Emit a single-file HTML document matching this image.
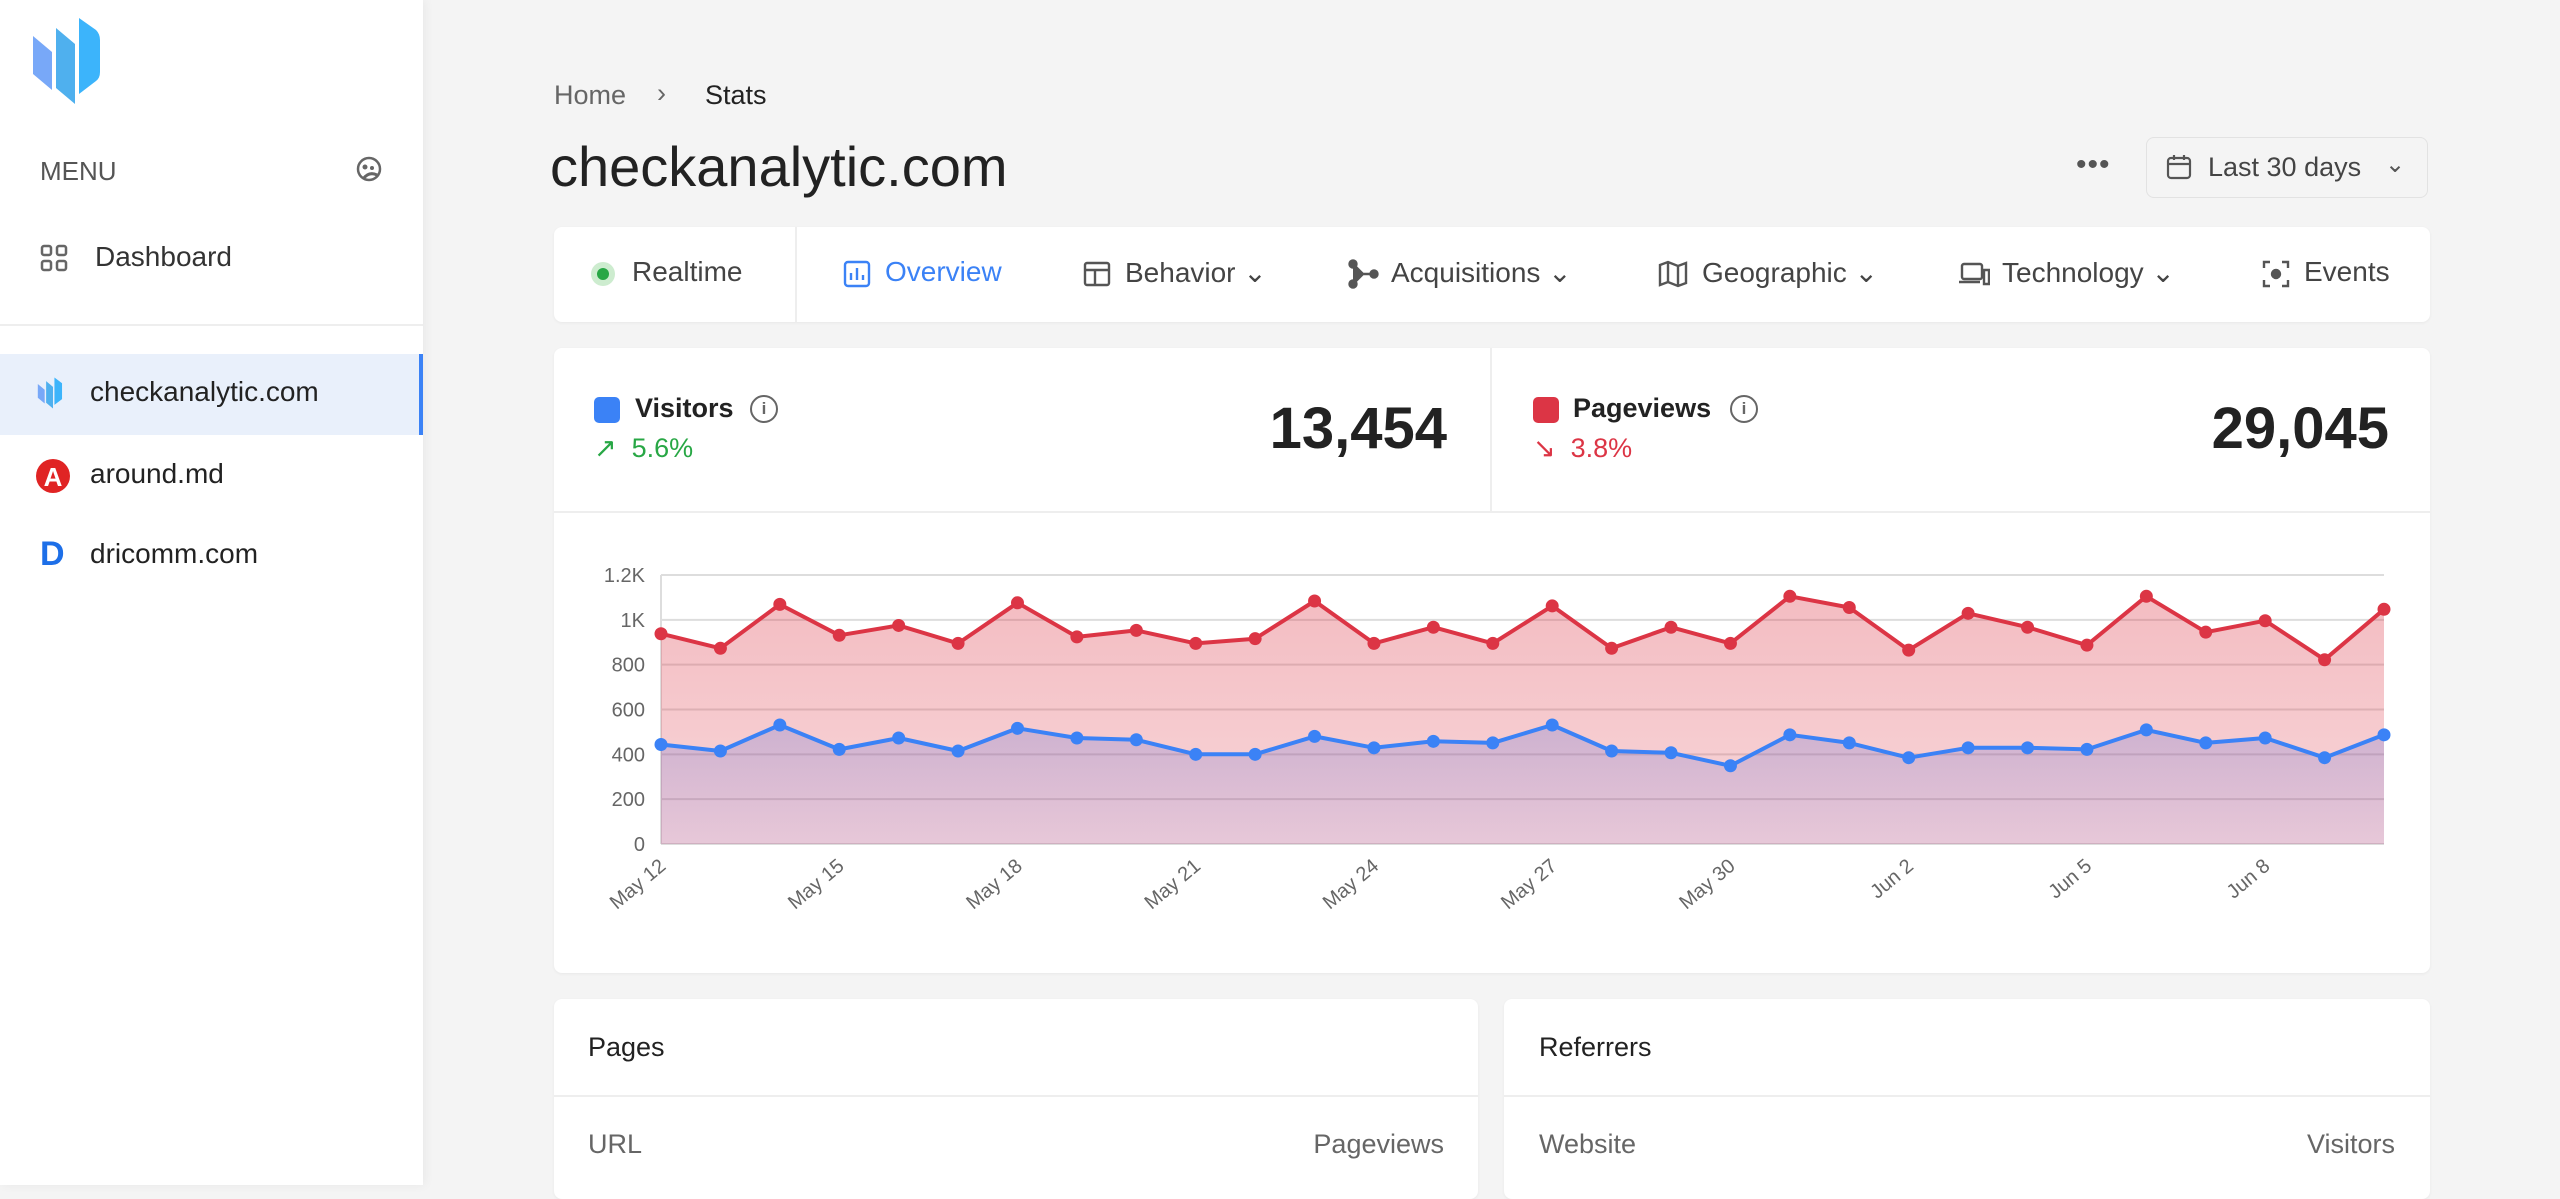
<!DOCTYPE html>
<html><head><meta charset="utf-8"><style>
*{box-sizing:border-box;margin:0;padding:0}
body{width:2560px;height:1185px;overflow:hidden;background:#f4f4f4;font-family:"Liberation Sans",sans-serif;color:#222;position:relative}
.a{position:absolute;white-space:nowrap}
.side{position:absolute;left:0;top:0;width:423px;height:1185px;background:#fff;box-shadow:2px 0 10px rgba(0,0,0,0.05)}
.card{position:absolute;background:#fff;border-radius:8px;box-shadow:0 1px 3px rgba(0,0,0,0.05)}
.tab{font-size:28px;color:#444;top:256px}
</style></head><body>
<div class="side">
  <svg class="a" style="left:30px;top:14px" width="90" height="94" viewBox="0 0 90 94">
    <path d="M3 22 L22 38 L22 76 L3 60 Z" fill="#78a8f8"/>
    <path d="M26 14 L45 30 L45 90 L26 74 Z" fill="#4fb0ee"/>
    <path d="M49 4 L66 16 Q70 20 70 26 L70 58 Q70 64 66 67 L49 80 Z" fill="#3cb4fb"/>
  </svg>
  <div class="a" style="left:40px;top:156px;font-size:26px;color:#555">MENU</div>
  <svg class="a" style="left:355px;top:155px" width="28" height="28" viewBox="0 0 28 28"><circle cx="14" cy="14" r="11" fill="none" stroke="#666" stroke-width="2.5"/><circle cx="10" cy="12" r="2.5" fill="#666"/><circle cx="17" cy="13" r="2" fill="#666"/><path d="M8 24 Q14 16 22 20" stroke="#666" stroke-width="3" fill="none"/></svg>
  <svg class="a" style="left:40px;top:244px" width="28" height="28" viewBox="0 0 28 28" fill="none" stroke="#666" stroke-width="2.5"><rect x="2" y="2" width="9" height="9" rx="2"/><rect x="17" y="2" width="9" height="9" rx="2"/><rect x="2" y="17" width="9" height="9" rx="2"/><rect x="17" y="17" width="9" height="9" rx="2"/></svg>
  <div class="a" style="left:95px;top:241px;font-size:28px;color:#333">Dashboard</div>
  <div class="a" style="left:0;top:324px;width:423px;height:2px;background:#eee"></div>
  <div class="a" style="left:0;top:354px;width:423px;height:81px;background:#e9f0fb;border-right:4px solid #3b82f6"></div>
  <svg class="a" style="left:36px;top:376px" width="34" height="34" viewBox="0 0 90 94"><path d="M3 22 L22 38 L22 76 L3 60 Z" fill="#78a8f8"/><path d="M26 14 L45 30 L45 90 L26 74 Z" fill="#4fb0ee"/><path d="M49 4 L70 20 L70 64 L49 80 Z" fill="#3cb4fb"/></svg>
  <div class="a" style="left:90px;top:376px;font-size:28px;color:#222">checkanalytic.com</div>
  <svg class="a" style="left:35px;top:458px" width="36" height="36" viewBox="0 0 36 36"><circle cx="18" cy="18" r="17" fill="#e02424"/><text x="18" y="28" font-size="26" font-weight="bold" fill="#fff" text-anchor="middle" font-family="Liberation Sans">A</text></svg>
  <div class="a" style="left:90px;top:458px;font-size:28px;color:#222">around.md</div>
  <div class="a" style="left:40px;top:535px;font-size:34px;font-weight:bold;color:#1d6fe8">D</div>
  <div class="a" style="left:90px;top:538px;font-size:28px;color:#222">dricomm.com</div>
</div>

<div class="a" style="left:554px;top:80px;font-size:27px;color:#666">Home</div>
<div class="a" style="left:657px;top:78px;font-size:27px;color:#666">›</div>
<div class="a" style="left:705px;top:80px;font-size:27px;color:#222">Stats</div>
<div class="a" style="left:550px;top:134px;font-size:56px;color:#222">checkanalytic.com</div>
<div class="a" style="left:2076px;top:148px;font-size:30px;color:#555;letter-spacing:1px">•••</div>
<div class="a" style="left:2146px;top:137px;width:282px;height:61px;border:1px solid #e2e2e2;border-radius:8px;background:#f4f4f4"></div>
<svg class="a" style="left:2166px;top:154px" width="26" height="26" viewBox="0 0 26 26" fill="none" stroke="#555" stroke-width="2.2"><rect x="2" y="4" width="22" height="20" rx="3"/><path d="M2 10H24M8 1V6M18 1V6"/></svg>
<div class="a" style="left:2208px;top:152px;font-size:27px;color:#444">Last 30 days</div>
<div class="a" style="left:2385px;top:150px;font-size:24px;color:#555">⌄</div>

<div class="card" style="left:554px;top:227px;width:1876px;height:95px"></div>
<div class="a" style="left:591px;top:262px;width:24px;height:24px;border-radius:50%;background:#cdeccf"></div>
<div class="a" style="left:597px;top:268px;width:12px;height:12px;border-radius:50%;background:#28a745"></div>
<div class="a tab" style="left:632px">Realtime</div>
<div class="a" style="left:795px;top:227px;width:2px;height:95px;background:#eee"></div>
<svg class="a" style="left:843px;top:260px" width="28" height="28" viewBox="0 0 28 28" fill="none" stroke="#3b82f6" stroke-width="2.4"><rect x="2" y="2" width="24" height="24" rx="3"/><path d="M8 20V13M14 20V8M20 20V15"/></svg>
<div class="a tab" style="left:885px;color:#3b82f6">Overview</div>
<svg class="a" style="left:1083px;top:261px" width="28" height="26" viewBox="0 0 28 26" fill="none" stroke="#555" stroke-width="2.4"><rect x="2" y="2" width="24" height="22" rx="2"/><path d="M2 9H26M12 9V24"/></svg>
<div class="a tab" style="left:1125px">Behavior ⌄</div>
<svg class="a" style="left:1347px;top:258px" width="32" height="32" viewBox="0 0 32 32" fill="#555" stroke="#555" stroke-width="2.4"><path d="M6 6L16 16L6 26M16 16H27"/><circle cx="6" cy="6" r="3.5"/><circle cx="6" cy="26" r="3.5"/><circle cx="27" cy="16" r="3.5"/></svg>
<div class="a tab" style="left:1391px">Acquisitions ⌄</div>
<svg class="a" style="left:1658px;top:260px" width="30" height="28" viewBox="0 0 30 28" fill="none" stroke="#555" stroke-width="2.4"><path d="M2 5L10 2L20 6L28 3V23L20 26L10 22L2 25Z M10 2V22M20 6V26"/></svg>
<div class="a tab" style="left:1702px">Geographic ⌄</div>
<svg class="a" style="left:1958px;top:262px" width="32" height="24" viewBox="0 0 32 24" fill="none" stroke="#555" stroke-width="2.4"><rect x="4" y="2" width="20" height="15" rx="2"/><path d="M1 20H22M26 8H31V22H26Z"/></svg>
<div class="a tab" style="left:2002px">Technology ⌄</div>
<svg class="a" style="left:2262px;top:260px" width="28" height="28" viewBox="0 0 28 28" fill="none" stroke="#555" stroke-width="2.4"><path d="M2 8V2H8M20 2H26V8M26 20V26H20M8 26H2V20"/><circle cx="14" cy="14" r="4" fill="#555"/></svg>
<div class="a tab" style="left:2304px">Events</div>

<div class="card" style="left:554px;top:348px;width:1876px;height:625px"></div>
<div class="a" style="left:554px;top:511px;width:1876px;height:2px;background:#eee"></div>
<div class="a" style="left:1490px;top:348px;width:2px;height:163px;background:#eee"></div>
<div class="a" style="left:594px;top:397px;width:26px;height:26px;border-radius:5px;background:#3b82f6"></div>
<div class="a" style="left:635px;top:393px;font-size:27px;font-weight:bold;color:#222">Visitors</div>
<div class="a" style="left:750px;top:395px;width:28px;height:28px;border:2.4px solid #666;border-radius:50%;font-size:17px;text-align:center;line-height:23px;color:#666;font-weight:bold">i</div>
<div class="a" style="left:594px;top:433px;font-size:27px;color:#28a745">↗&nbsp; 5.6%</div>
<div class="a" style="left:1100px;top:395px;width:347px;text-align:right;font-size:58px;font-weight:bold;color:#222">13,454</div>
<div class="a" style="left:1533px;top:397px;width:26px;height:26px;border-radius:5px;background:#dc3545"></div>
<div class="a" style="left:1573px;top:393px;font-size:27px;font-weight:bold;color:#222">Pageviews</div>
<div class="a" style="left:1730px;top:395px;width:28px;height:28px;border:2.4px solid #666;border-radius:50%;font-size:17px;text-align:center;line-height:23px;color:#666;font-weight:bold">i</div>
<div class="a" style="left:1533px;top:433px;font-size:27px;color:#dc3545">↘&nbsp; 3.8%</div>
<div class="a" style="left:2040px;top:395px;width:349px;text-align:right;font-size:58px;font-weight:bold;color:#222">29,045</div>

<svg id="ch" class="a" style="left:0;top:0" width="2560" height="1185" viewBox="0 0 2560 1185"></svg>

<div class="card" style="left:554px;top:999px;width:924px;height:200px"></div>
<div class="a" style="left:588px;top:1032px;font-size:27px;color:#222">Pages</div>
<div class="a" style="left:554px;top:1095px;width:924px;height:2px;background:#eee"></div>
<div class="a" style="left:588px;top:1129px;font-size:27px;color:#666">URL</div>
<div class="a" style="left:1200px;top:1129px;width:244px;text-align:right;font-size:27px;color:#666">Pageviews</div>
<div class="card" style="left:1504px;top:999px;width:926px;height:200px"></div>
<div class="a" style="left:1539px;top:1032px;font-size:27px;color:#222">Referrers</div>
<div class="a" style="left:1504px;top:1095px;width:926px;height:2px;background:#eee"></div>
<div class="a" style="left:1539px;top:1129px;font-size:27px;color:#666">Website</div>
<div class="a" style="left:2150px;top:1129px;width:245px;text-align:right;font-size:27px;color:#666">Visitors</div>

<script>
var red=[938,873,1069,931,975,895,1076,924,953,895,916,1084,895,967,895,1062,873,967,895,1105,1055,865,1029,967,887,1105,945,996,822,1047];
var blue=[444,415,531,422,473,415,516,473,465,400,400,480,429,458,451,531,415,407,349,487,451,385,429,429,422,509,451,473,385,487];
var X0=661,DX=(2384-661)/29,Y0=844,K=269/1200;
function X(i){return X0+i*DX}function Y(v){return Y0-v*K}
var s='<defs><linearGradient id="gr" x1="0" y1="0" x2="0" y2="1"><stop offset="0" stop-color="#dc3545" stop-opacity="0.33"/><stop offset="1" stop-color="#dc3545" stop-opacity="0.2"/></linearGradient><linearGradient id="gb" x1="0" y1="0" x2="0" y2="1"><stop offset="0" stop-color="#3b5bd6" stop-opacity="0.22"/><stop offset="1" stop-color="#6a5acd" stop-opacity="0.12"/></linearGradient></defs>';
for(var g=0;g<=6;g++){var y=Y(g*200);s+='<line x1="'+X0+'" x2="2384" y1="'+y+'" y2="'+y+'" stroke="#ddd" stroke-width="2"/>';
s+='<text x="645" y="'+(y+7)+'" font-size="20" fill="#666" text-anchor="end" font-family="Liberation Sans">'+(g==6?'1.2K':g==5?'1K':g*200)+'</text>';}
s+='<line x1="'+X0+'" x2="'+X0+'" y1="'+Y(1200)+'" y2="'+Y0+'" stroke="#ddd" stroke-width="2"/>';
function pts(a){return a.map(function(v,i){return X(i).toFixed(1)+','+Y(v).toFixed(1)}).join(' ')}
function area(a,f){return '<polygon points="'+X0+','+Y0+' '+pts(a)+' 2384,'+Y0+'" fill="'+f+'"/>'}
s+=area(red,'url(#gr)')+area(blue,'url(#gb)');
[[red,'#dc3545'],[blue,'#3b82f6']].forEach(function(p){s+='<polyline points="'+pts(p[0])+'" fill="none" stroke="'+p[1]+'" stroke-width="4" stroke-linejoin="round"/>';
p[0].forEach(function(v,i){s+='<circle cx="'+X(i)+'" cy="'+Y(v)+'" r="6.5" fill="'+p[1]+'"/>'});});
var lb=['May 12','May 15','May 18','May 21','May 24','May 27','May 30','Jun 2','Jun 5','Jun 8'];
lb.forEach(function(t,k){var x=X(k*3)+6,y=Y0+24;s+='<text x="'+x+'" y="'+y+'" font-size="20" fill="#666" text-anchor="end" font-family="Liberation Sans" transform="rotate(-40 '+x+' '+y+')">'+t+'</text>';});
document.getElementById('ch').innerHTML=s;
</script>
</body></html>
